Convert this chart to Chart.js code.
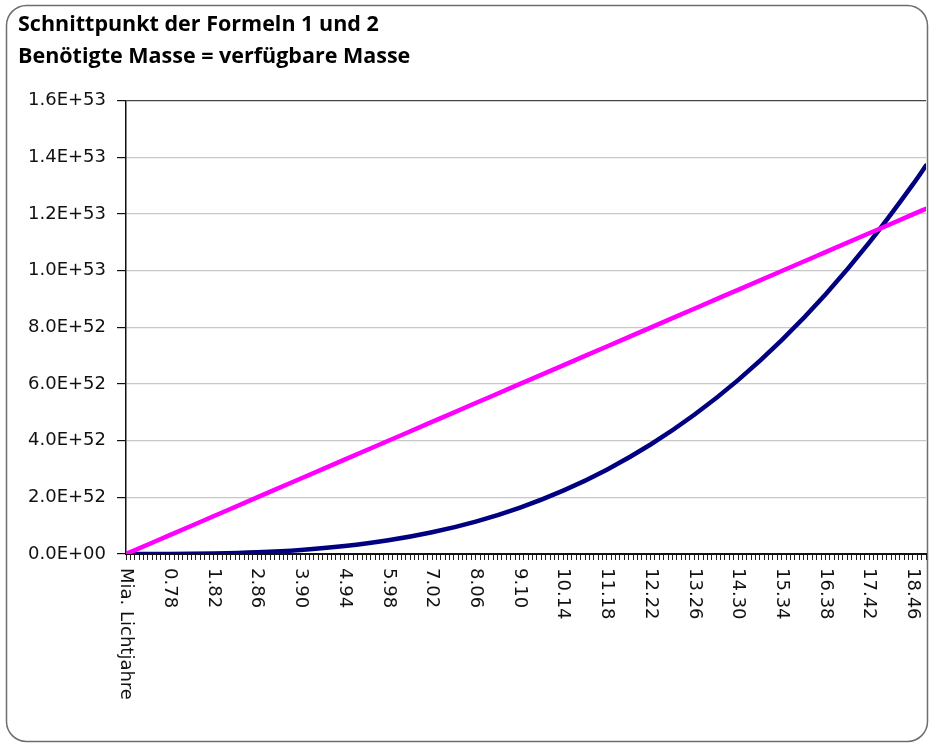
<!DOCTYPE html>
<html>
<head>
<meta charset="utf-8">
<script src="https://cdn.jsdelivr.net/npm/chart.js@4.4.1/dist/chart.umd.min.js"></script>
<style>
  html, body { margin: 0; padding: 0; background: #fff; }
  canvas { display: block; }
</style>
</head>
<body>
<canvas id="chart" width="929" height="743"></canvas>
<script>
// Schnittpunkt der Formeln 1 und 2
const TITLE = ["Schnittpunkt der Formeln 1 und 2", "Benötigte Masse = verfügbare Masse"];
const CATEGORY_COUNT = 184;
const X_LABELS = ["Mia. Lichtjahre", "0.78", "1.82", "2.86", "3.90", "4.94", "5.98", "7.02", "8.06", "9.10",
  "10.14", "11.18", "12.22", "13.26", "14.30", "15.34", "16.38", "17.42", "18.46"];
const LABEL_EVERY = 10;

// sample positions (category index) and values, in units of 1E+53
const xIdx = [0, 10, 20, 30, 40, 50, 60, 70, 80, 90, 100, 110, 120, 130, 140, 150, 160, 170, 180, 183];
const benoetigt = [0, 0.0002, 0.0018, 0.0060, 0.0143, 0.0280, 0.0483, 0.0767, 0.1145, 0.1631,
  0.2237, 0.2978, 0.3866, 0.4915, 0.6138, 0.7550, 0.9163, 1.0991, 1.3047, 1.371];
const verfuegbar = [0, 0.0666, 0.1332, 0.1998, 0.2664, 0.3331, 0.3997, 0.4663, 0.5329, 0.5995,
  0.6661, 0.7327, 0.7993, 0.8660, 0.9326, 0.9992, 1.0658, 1.1324, 1.1990, 1.219];
const E53 = 1e53;

const FONT = "'DejaVu Sans', sans-serif";

function sciLabel(v) {
  const [m, e] = Number(v).toExponential(1).split("e");
  const sign = e[0] === "-" ? "-" : "+";
  return m + "E" + sign + e.replace(/[+-]/, "").padStart(2, "0");
}

const toPoints = (vals) => vals.map((v, i) => ({ x: xIdx[i], y: v * E53 }));

// rounded frame around the whole chart
const frame = {
  id: "frame",
  beforeDraw(chart) {
    const c = chart.ctx;
    c.save();
    c.fillStyle = "#fff";
    c.fillRect(0, 0, chart.width, chart.height);
    c.strokeStyle = "#6e6e6e";
    c.lineWidth = 1.5;
    c.beginPath();
    c.roundRect(6.5, 5.5, 921, 736, 20);
    c.stroke();
    c.restore();
  },
};

// x labels read top-to-bottom (rotated clockwise)
const xLabels = {
  id: "xLabels",
  afterDraw(chart) {
    const sx = chart.scales.x;
    const c = chart.ctx;
    c.save();
    c.font = "18px " + FONT;
    c.fillStyle = "#111";
    c.textAlign = "left";
    c.textBaseline = "middle";
    X_LABELS.forEach((txt, k) => {
      const x = sx.getPixelForValue(k * LABEL_EVERY);
      c.save();
      c.translate(x, sx.top + 14);
      c.rotate(Math.PI / 2);
      c.fillText(txt, 0, 0);
      c.restore();
    });
    c.restore();
  },
};

new Chart(document.getElementById("chart"), {
  type: "line",
  data: {
    datasets: [
      { label: "verfügbare Masse", data: toPoints(verfuegbar), borderColor: "#ff00ff", borderWidth: 4.5 },
      { label: "benötigte Masse", data: toPoints(benoetigt), borderColor: "#000080", borderWidth: 4.5 },
    ],
  },
  options: {
    responsive: false,
    animation: false,
    layout: { padding: { left: 18, right: 3, top: 0, bottom: 0 } },
    elements: { point: { radius: 0 }, line: { cubicInterpolationMode: "monotone", borderCapStyle: "round" } },
    plugins: {
      legend: { display: false },
      tooltip: { enabled: false },
      title: {
        display: true, text: TITLE, align: "start", color: "#000",
        font: { family: "'Open Sans', sans-serif", size: 21.5, weight: "bold", lineHeight: 1.53 },
        padding: { top: 8, bottom: 27 },
      },
    },
    scales: {
      x: {
        type: "linear", min: 0, max: CATEGORY_COUNT - 1,
        afterBuildTicks: (s) => { s.ticks = Array.from({ length: CATEGORY_COUNT }, (_, i) => ({ value: i })); },
        afterFit: (s) => { s.height = 189; },
        ticks: { display: false },
        grid: { drawOnChartArea: false, tickLength: 6, tickColor: "#222", tickWidth: 1 },
        border: { color: "#111", width: 2 },
      },
      y: {
        min: 0, max: 1.6e53,
        afterFit: (s) => { s.width = 108; },
        ticks: { stepSize: 2e52, callback: sciLabel, color: "#111", padding: 11, font: { family: FONT, size: 18 } },
        grid: {
          color: (ctx) => (ctx.tick && ctx.tick.value >= 1.6e53 ? "#444" : "#c8c8c8"),
          tickColor: "#111", tickLength: 9, lineWidth: 1.2,
        },
        border: { color: "#111", width: 1.5 },
      },
    },
  },
  plugins: [frame, xLabels],
});
</script>
</body>
</html>
